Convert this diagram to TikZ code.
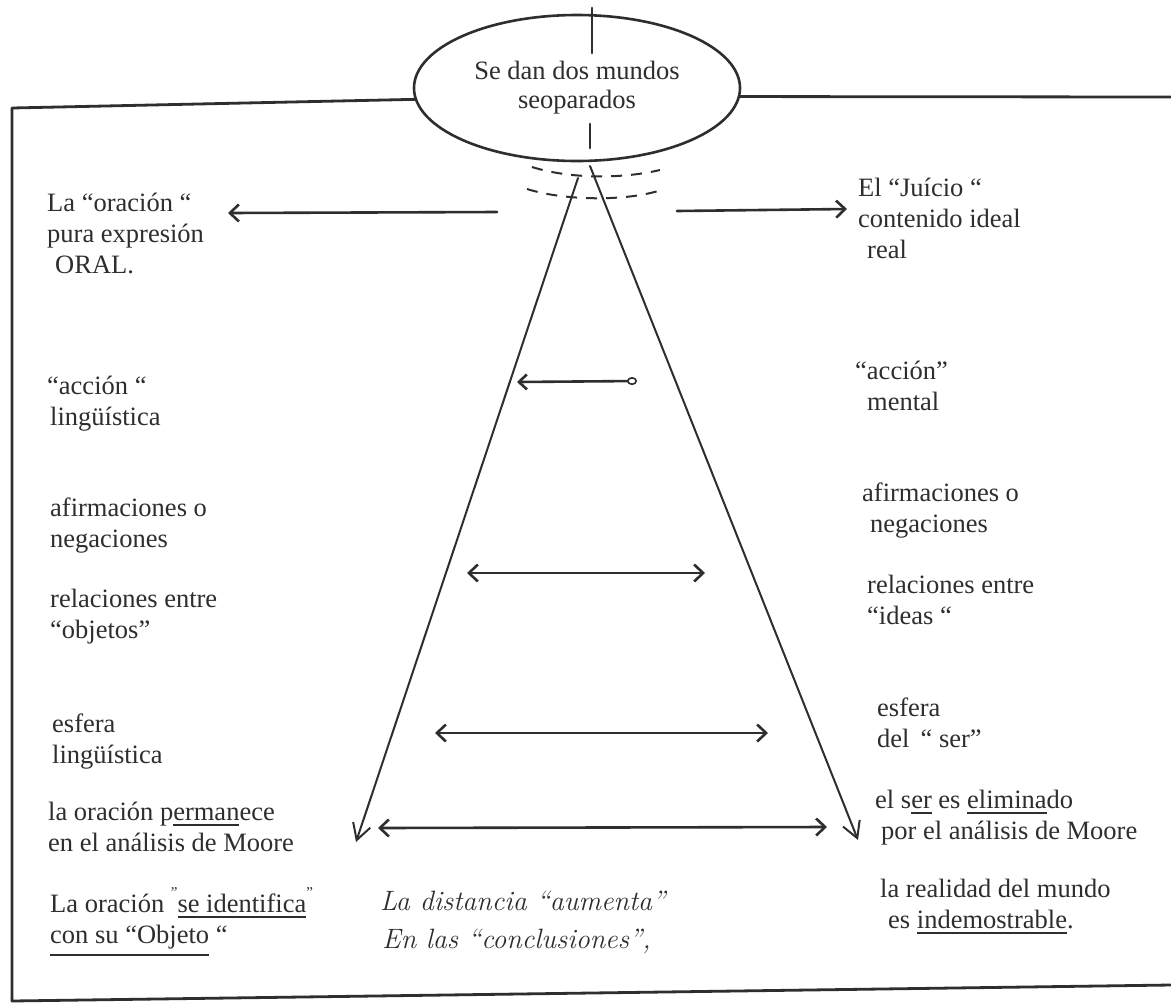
\documentclass[tikz,border=0pt]{standalone}
\usepackage{fontspec}
\setmainfont{Liberation Serif}
\newfontfamily\handfont{Latin Modern Roman}
\usetikzlibrary{arrows.meta,shapes.geometric}
\definecolor{ink}{HTML}{2E2E2E}
\newcommand\hul[2][-6pt]{\setbox0=\hbox{#2}\rlap{\rule[#1]{\wd0}{2.4pt}}\box0\relax}
\newcommand\hq{\raisebox{15pt}{\fontsize{15}{15}\selectfont ”}}
\tikzset{
  txt/.style={anchor=base west, align=left, inner sep=0pt, text=ink, font=\fontsize{26.5}{31}\selectfont},
  hand/.style={anchor=base west, inner sep=0pt, text=ink, font=\handfont\itshape\fontsize{28}{34}\selectfont},
  frame/.style={draw=ink, line width=2.8pt, line cap=round, line join=round},
  arr/.style={draw=ink, line width=2.6pt, line cap=round, -{Straight Barb[length=9pt,width=17pt]}},
  darr/.style={draw=ink, line width=2.6pt, line cap=round, {Straight Barb[length=9pt,width=17pt]}-{Straight Barb[length=9pt,width=17pt]}},
  varr/.style={draw=ink, line width=2pt, line cap=round, -{Straight Barb[length=16pt,width=18pt]}},
}
\begin{document}
\begin{tikzpicture}[x=1pt,y=-1pt]
\useasboundingbox (0,0) rectangle (1171,1005);
\fill[white] (0,0) rectangle (1171,1005);

% ellipse
\node[ellipse, draw=ink, line width=2.6pt, minimum width=326pt, minimum height=146pt, inner sep=0pt,
      text=ink, align=center, font=\fontsize{26.5}{30}\selectfont] (ell) at (577,88) {Se dan dos mundos\\[-1pt]seoparados};

% frame
\coordinate (tl) at (12,108);
\coordinate (bl) at (12,1001);
\coordinate (br) at (1171,985);
\coordinate (tr) at (1171,97);
\draw[frame] (ell.184) -- (tl) -- (bl) -- (br);
\draw[frame] (ell.357) -- (tr);

% vertical strokes on ellipse
\coordinate (vt1) at (592,8);
\coordinate (vt2) at (592,53);
\coordinate (vi1) at (590,124);
\coordinate (vi2) at (590,148);
\draw[frame] (vt1) -- (vt2);
\draw[frame] (vi1) -- (vi2);

% dashed arcs
\coordinate (d1a) at (532,167);
\coordinate (d1b) at (660,170);
\coordinate (d2a) at (527,189);
\coordinate (d2b) at (658,191);
\draw[draw=ink, line width=2pt, dash pattern=on 11pt off 9pt] (d1a) .. controls (570,179) and (622,179) .. (d1b);
\draw[draw=ink, line width=2pt, dash pattern=on 11pt off 9pt] (d2a) .. controls (565,201) and (625,201) .. (d2b);

% triangle
\coordinate (apL) at (578,178);
\coordinate (tipL) at (356,842);
\coordinate (apR) at (590,166);
\coordinate (tipR) at (858,840);
\draw[varr] (apL) -- (tipL);
\draw[varr] (apR) -- (tipR);

% horizontal arrows
\coordinate (a1s) at (497,212); \coordinate (a1e) at (228,213);
\coordinate (a2s) at (677,211); \coordinate (a2e) at (847,209);
\coordinate (a3s) at (637,381); \coordinate (a3e) at (517,382);
\coordinate (a4s) at (467,573); \coordinate (a4e) at (705,573);
\coordinate (a5s) at (435,733); \coordinate (a5e) at (768,733);
\coordinate (a6s) at (378,828); \coordinate (a6e) at (827,827);
\draw[arr] (a1s) -- (a1e);
\draw[arr] (a2s) -- (a2e);
\draw[draw=ink, line width=2.6pt, line cap=round, {Circle[open,length=10pt,width=8pt,line width=1.6pt,fill=white]}-{Straight Barb[length=8pt,width=15pt]}] (a3s) -- (a3e);
\draw[darr] (a4s) -- (a4e);
\draw[darr] (a5s) -- (a5e);
\draw[darr] (a6s) -- (a6e);

% left column (coordinate = baseline of last line)
\node[txt] (l1) at (47,273) {La “oración “\\pura expresión\\\hspace{8pt}ORAL.};
\node[txt] (l2) at (47,425) {“acción “\\\hspace{3pt}lingüística};
\node[txt] (l3) at (50,547) {afirmaciones o\\negaciones};
\node[txt] (l4) at (50,638) {relaciones entre\\“objetos”};
\node[txt] (l5) at (52,763) {esfera\\lingüística};
\node[txt] (l6) at (48,851) {la oración p\hul{erman}ece\\en el análisis de Moore};
\node[txt] (l7) at (50,943) {La oración \hq\hul{se identifica}\hq\\\hul[-13pt]{con su “Objeto} “};

% right column
\node[txt] (r1) at (858,258) {El “Juício “\\contenido ideal\\\hspace{9pt}real};
\node[txt] (r2) at (855,410) {“acción”\\\hspace{12pt}mental};
\node[txt] (r3) at (862,532) {afirmaciones o\\\hspace{8pt}negaciones};
\node[txt] (r4) at (867,624) {relaciones entre\\“ideas “};
\node[txt] (r5) at (877,747) {esfera\\del \,“ ser”};
\node[txt] (r6) at (875,839) {el s\hul{er} es \hul{elimina}do\\\hspace{6pt}por el análisis de Moore};
\node[txt] (r7) at (880,928) {la realidad del mundo\\\hspace{8pt}es \hul{indemostrable}.};

% handwritten note
\node[hand] (h1) at (380,910) {La distancia “aumenta”};
\node[hand] (h2) at (382,948) {En las “conclusiones”,};
\end{tikzpicture}
\end{document}
